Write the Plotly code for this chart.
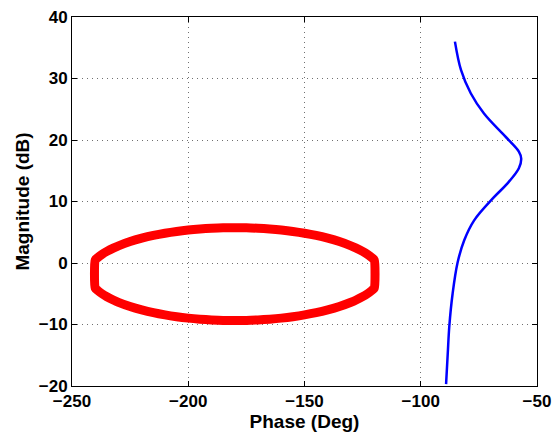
import plotly.graph_objects as go

# Red contour: upper arc left->right, lower arc left->right
ell_x = [-240, -239, -237, -235, -232, -230, -225, -220, -215, -210, -205, -200, -195, -190, -185,
         -180, -175, -170, -165, -160, -155, -150, -145, -140, -135, -130, -128, -125, -123, -121, -120]
ell_top = [0.50, 0.85, 1.42, 1.88, 2.46, 2.79, 3.48, 4.03, 4.48, 4.84, 5.13, 5.36, 5.53, 5.65, 5.73,
           5.75, 5.73, 5.65, 5.53, 5.36, 5.13, 4.84, 4.48, 4.03, 3.48, 2.79, 2.46, 1.88, 1.42, 0.85, 0.50]
ell_bot = [-4.10, -4.45, -5.02, -5.48, -6.06, -6.39, -7.08, -7.63, -8.08, -8.44, -8.73, -8.96, -9.13, -9.25, -9.33,
           -9.35, -9.33, -9.25, -9.13, -8.96, -8.73, -8.44, -8.08, -7.63, -7.08, -6.39, -6.06, -5.48, -5.02, -4.45, -4.10]

# Blue open-loop curve
blue_phase = [-85.3, -82.7, -78.5, -72.8, -65.0, -61.4, -57.8, -56.8, -57.8, -62.8, -68.5,
              -77.1, -81.3, -84.2, -86.3, -87.7, -88.4, -89.1]
blue_mag = [36.0, 31.4, 27.6, 24.3, 21.1, 19.7, 18.1, 17.0, 15.4, 12.9, 10.7,
            6.9, 3.7, 0.0, -5.0, -10.2, -14.8, -19.7]

x_ticks = [-250, -200, -150, -100, -50]
y_ticks = [-20, -10, 0, 10, 20, 30, 40]

ring_x = ell_x + ell_x[::-1] + [ell_x[0]]
ring_y = ell_top + ell_bot[::-1] + [ell_top[0]]

fig = go.Figure()
fig.add_trace(go.Scatter(x=ring_x, y=ring_y, mode="lines",
                         line=dict(color="#ff0000", width=9, shape="spline", smoothing=0.6),
                         showlegend=False))
fig.add_trace(go.Scatter(x=blue_phase, y=blue_mag, mode="lines",
                         line=dict(color="#0000ff", width=2.5, shape="spline"),
                         showlegend=False))

font = dict(family="Liberation Sans, Arial, sans-serif", size=17, color="black", weight="bold")
tfont = dict(family="Liberation Sans, Arial, sans-serif", size=19, color="black", weight="bold")
axis_common = dict(showgrid=True, gridcolor="#707070", griddash="1px,4px", gridwidth=1,
                   showline=True, linecolor="black", linewidth=1, mirror="ticks",
                   ticks="inside", ticklen=5, tickcolor="black", zeroline=False,
                   tickfont=font, automargin=False, ticklabeloverflow="allow")

fig.update_layout(
    width=552, height=432,
    margin=dict(l=72, r=15, t=17, b=46),
    paper_bgcolor="white", plot_bgcolor="white",
    xaxis=dict(range=[-250, -50], tickvals=x_ticks,
               title=dict(text="Phase (Deg)", font=tfont, standoff=0), **axis_common),
    yaxis=dict(range=[-20, 40], tickvals=y_ticks,
               title=dict(text="Magnitude (dB)", font=tfont, standoff=4), **axis_common),
)
fig.write_html("out.html")
